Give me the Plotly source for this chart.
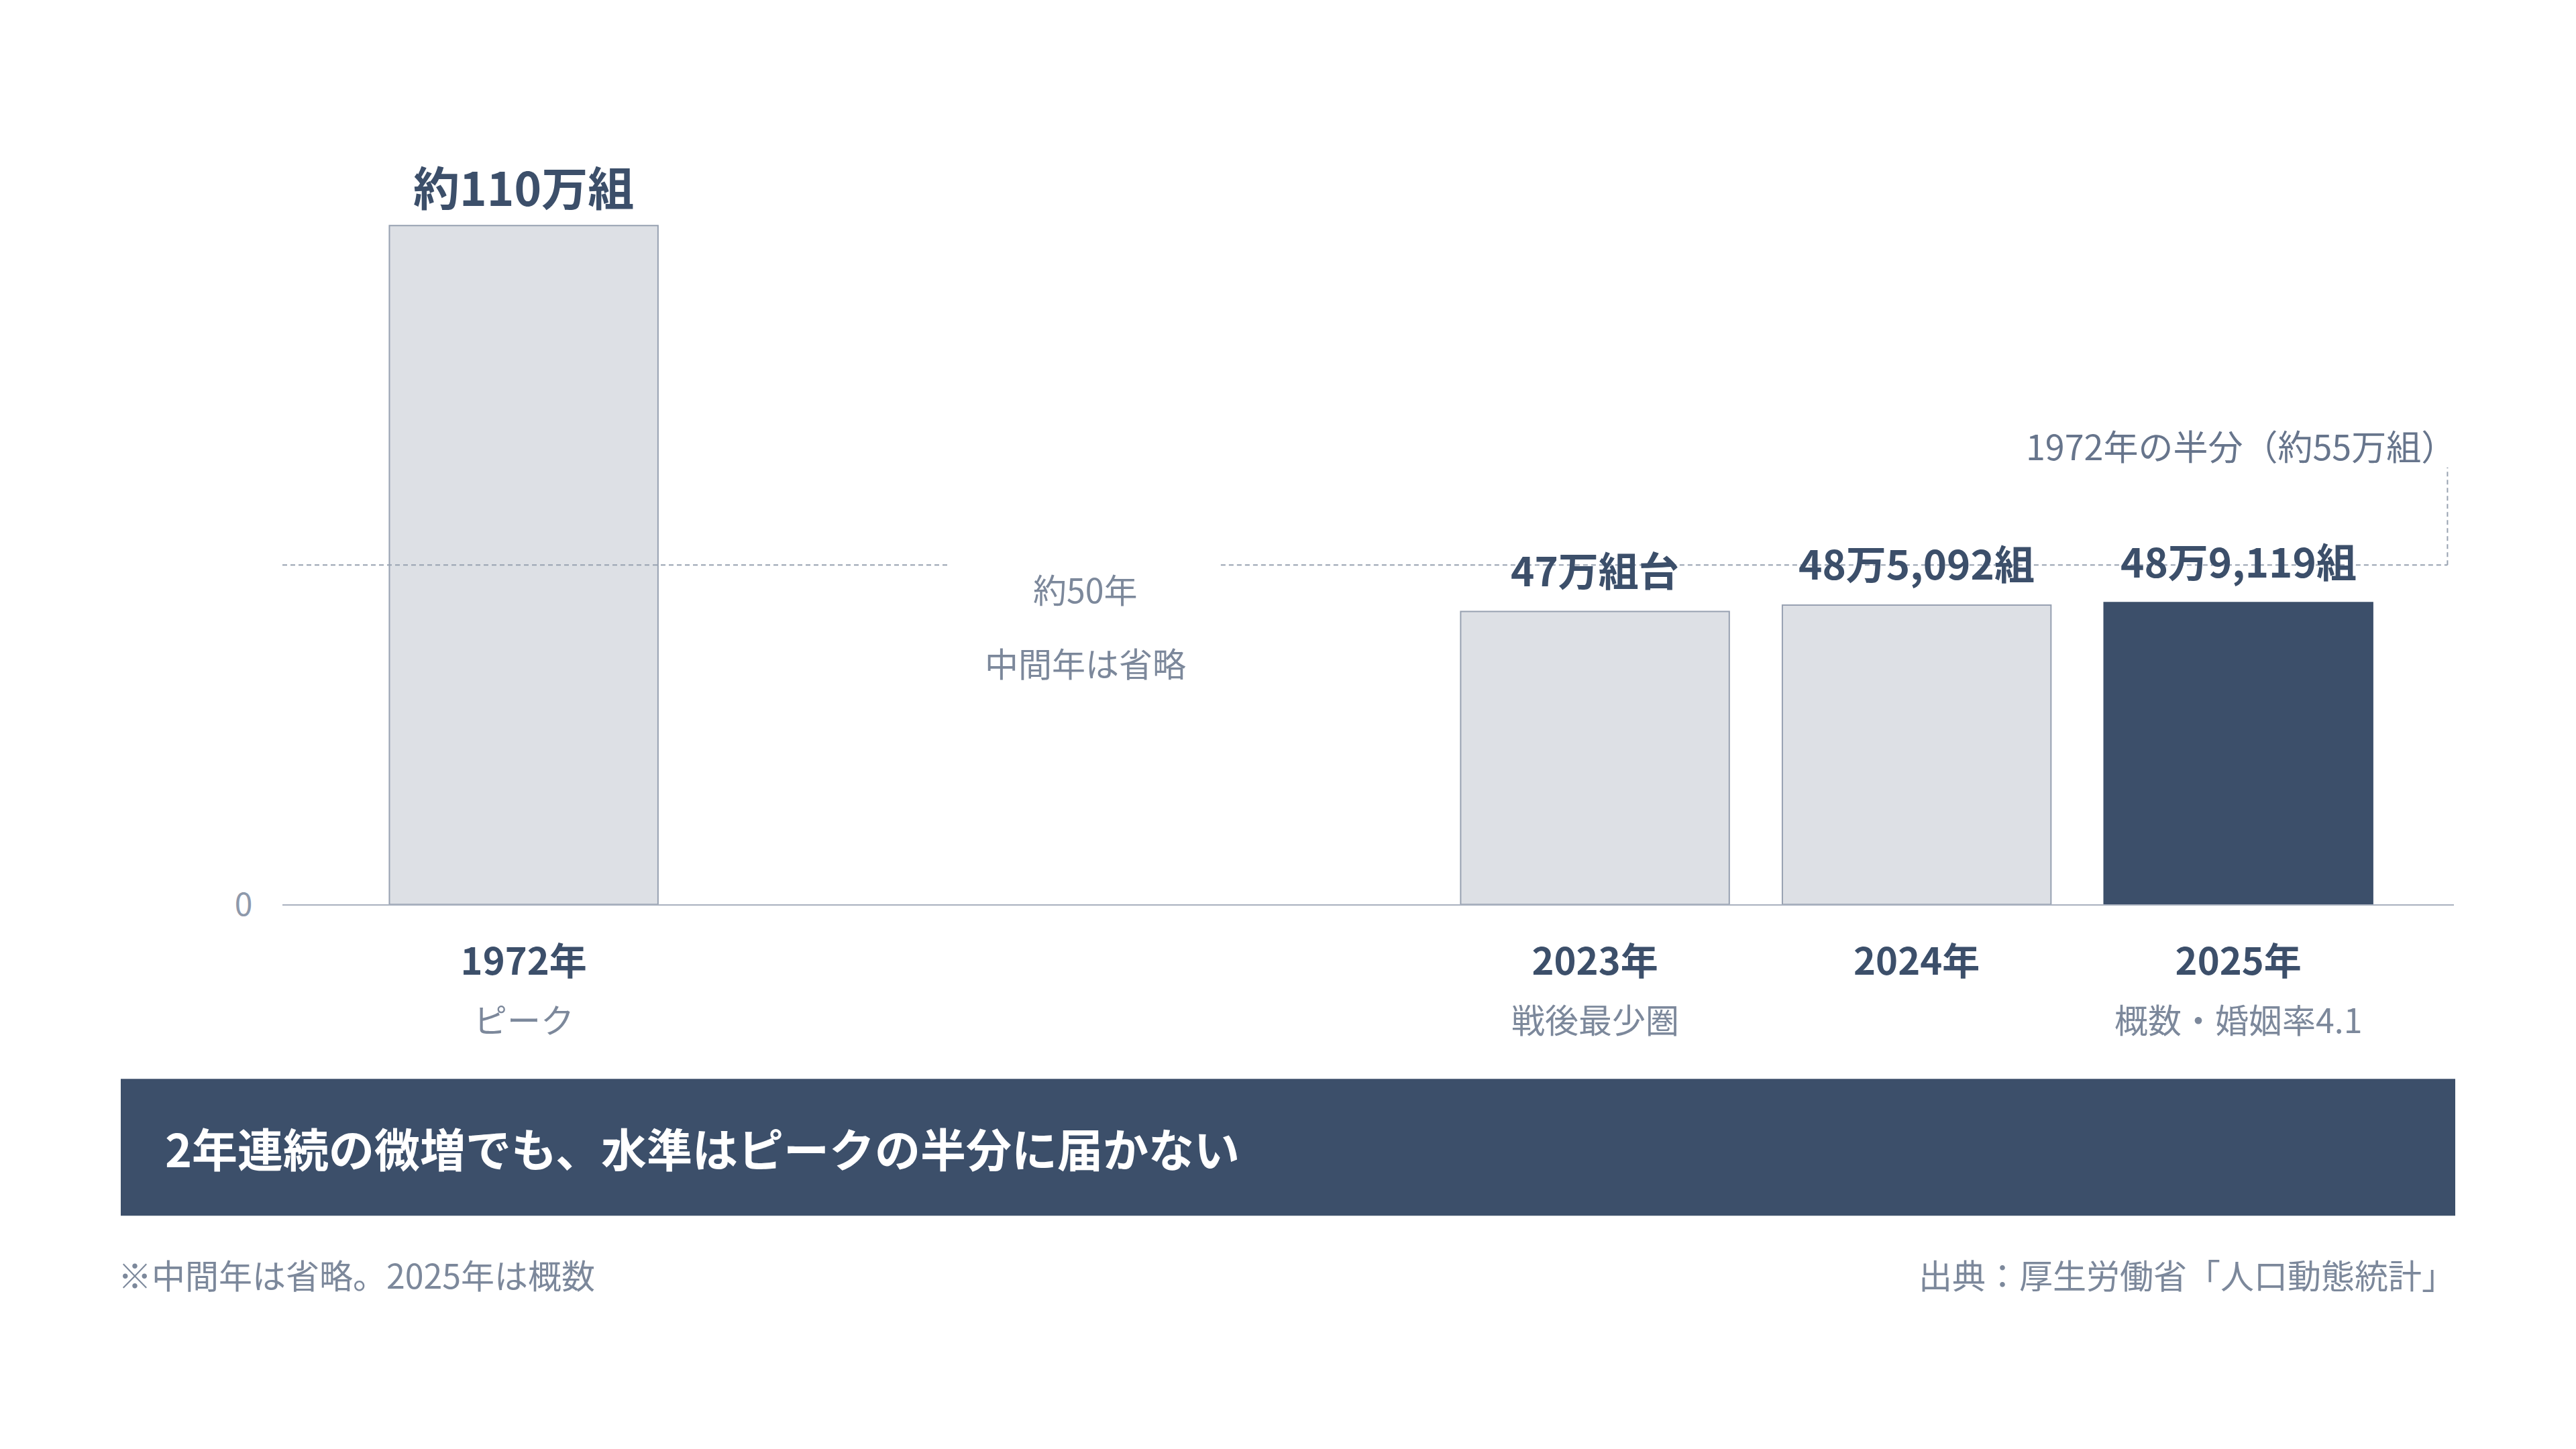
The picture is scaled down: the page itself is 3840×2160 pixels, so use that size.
import plotly.graph_objects as go

# ---------------- data ----------------
years = ["1972年", "2023年", "2024年", "2025年"]
notes = ["ピーク", "戦後最少圏", "", "概数・婚姻率4.1"]
values_man = [109.9984, 47.4741, 48.5092, 48.9119]   # 万組
value_labels = ["約110万組", "47万組台", "48万5,092組", "48万9,119組"]
half_label = "1972年の半分（約55万組）"
gap_labels = ["約50年", "中間年は省略"]
banner_text = "2年連続の微増でも、水準はピークの半分に届かない"
footnote_left = "※中間年は省略。2025年は概数"
footnote_right = "出典：厚生労働省「人口動態統計」"

# ---------------- layout constants ----------------
W, H = 3840, 2160
OFF_X, OFF_Y, KY = -8, -8, 1.0147
FONT = "Noto Sans CJK JP"
NAVY = "#3c4f6a"
GRAY = "#7c889b"
GRAY2 = "#67758c"
LIGHT = "#dde0e5"
EDGE = "#97a1b1"
AXIS = "#a9b1bf"
DASH = "#98a2b1"

x_pos = [0, 3.33, 4.33, 5.33]          # category slots (gap for omitted years)
x_range = [-0.75, 6.0]
bar_w = 0.835
y_range = [0, 120]

def px(p):
    return (p + OFF_X) / W

def py(p):
    return 1 - (p * KY + OFF_Y) / H

half = values_man[0] / 2

fill = [LIGHT, LIGHT, LIGHT, NAVY]
line = [EDGE, EDGE, EDGE, NAVY]

fig = go.Figure()
fig.add_trace(go.Bar(
    x=x_pos, y=values_man, width=bar_w,
    marker=dict(color=fill, line=dict(color=line, width=2)),
    hoverinfo="skip",
))

# dashed reference line at half of peak (broken around the gap text)
dash_style = dict(color=DASH, width=2, dash="7px,5px")
fig.add_shape(type="line", xref="x", yref="y", x0=x_range[0], x1=1.325,
              y0=half, y1=half, line=dash_style, layer="above")
fig.add_shape(type="line", xref="x", yref="y", x0=2.167, x1=5.98,
              y0=half, y1=half, line=dash_style, layer="above")
fig.add_shape(type="line", xref="x", yref="y", x0=5.98, x1=5.98,
              y0=half, y1=half + 15.8, line=dash_style, layer="above")

annotations = []
# value labels above bars
for i, (xv, v, lab) in enumerate(zip(x_pos, values_man, value_labels)):
    annotations.append(dict(
        x=xv, y=v, xref="x", yref="y", text=f"<b>{lab}</b>", showarrow=False,
        yanchor="middle", yshift=59 if i == 0 else 64,
        font=dict(family=FONT, size=69 if i == 0 else 60, color=NAVY),
    ))
# sub notes under year ticks
for xv, n in zip(x_pos, notes):
    if n:
        annotations.append(dict(
            x=xv, y=py(1518), xref="x", yref="paper", text=n, showarrow=False,
            xanchor="center", yanchor="middle",
            font=dict(family=FONT, size=50, color=GRAY),
        ))
# gap texts
annotations.append(dict(x=px(1618), y=py(877), xref="paper", yref="paper",
                        text=gap_labels[0], showarrow=False, yanchor="middle",
                        font=dict(family=FONT, size=50, color=GRAY)))
annotations.append(dict(x=px(1618), y=py(987), xref="paper", yref="paper",
                        text=gap_labels[1], showarrow=False, yanchor="middle",
                        font=dict(family=FONT, size=50, color=GRAY)))
# half annotation
annotations.append(dict(x=px(3663), y=py(663), xref="paper", yref="paper",
                        text=half_label, showarrow=False, xanchor="right",
                        yanchor="middle",
                        font=dict(family=FONT, size=52, color=GRAY2)))
# banner
fig.add_shape(type="rect", xref="paper", yref="paper",
              x0=px(180), x1=px(3660), y0=py(1812), y1=py(1608),
              fillcolor=NAVY, line=dict(width=0), layer="above")
annotations.append(dict(x=px(244), y=py(1710), xref="paper", yref="paper",
                        text=f"<b>{banner_text}</b>", showarrow=False,
                        xanchor="left", yanchor="middle",
                        font=dict(family=FONT, size=68, color="white")))
# footnotes
annotations.append(dict(x=px(174), y=py(1899), xref="paper", yref="paper",
                        text=footnote_left, showarrow=False,
                        xanchor="left", yanchor="middle",
                        font=dict(family=FONT, size=50, color=GRAY)))
annotations.append(dict(x=px(3662), y=py(1899), xref="paper", yref="paper",
                        text=footnote_right, showarrow=False,
                        xanchor="right", yanchor="middle",
                        font=dict(family=FONT, size=50, color=GRAY)))

fig.update_layout(
    width=W, height=H,
    margin=dict(l=0, r=0, t=0, b=0),
    paper_bgcolor="white", plot_bgcolor="white",
    showlegend=False,
    font=dict(family=FONT),
    annotations=annotations,
    xaxis=dict(
        domain=[px(421), px(3658)], range=x_range,
        tickvals=x_pos, ticktext=[f"<b>{y}</b>" for y in years],
        tickfont=dict(family=FONT, size=56, color=NAVY),
        ticks="outside", ticklen=36, tickcolor="rgba(0,0,0,0)",
        showline=True, linecolor=AXIS, linewidth=2,
        showgrid=False, zeroline=False, fixedrange=True,
    ),
    yaxis=dict(
        domain=[py(1348), py(244)], range=y_range,
        tickvals=[0], ticktext=["0"],
        tickfont=dict(family=FONT, size=48, color="#8e99ab"),
        ticks="outside", ticklen=34, tickcolor="rgba(0,0,0,0)",
        showline=False, showgrid=False, zeroline=False, fixedrange=True,
    ),
)

fig.write_html("out.html")
